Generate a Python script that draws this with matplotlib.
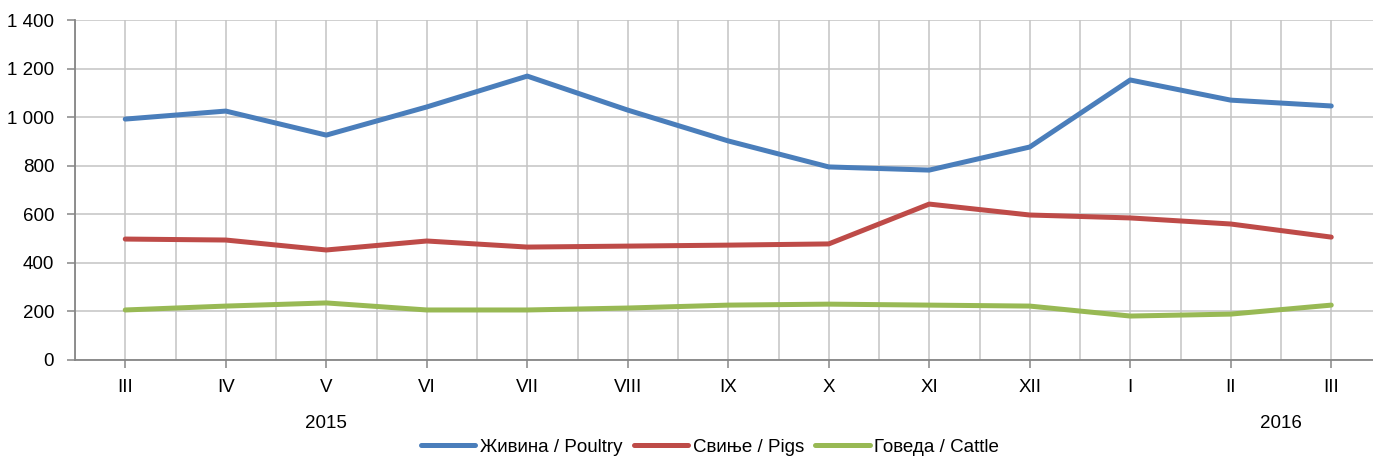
import matplotlib
matplotlib.use("Agg")
import matplotlib.pyplot as plt
from matplotlib.ticker import FixedLocator, FuncFormatter
import matplotlib.transforms as mtransforms

months = ["III", "IV", "V", "VI", "VII", "VIII", "IX", "X", "XI", "XII", "I", "II", "III"]
poultry = [992, 1025, 926, 1042, 1169, 1029, 902, 795, 782, 877, 1153, 1070, 1046]
pigs = [498, 494, 453, 490, 465, 469, 473, 478, 642, 597, 585, 560, 506]
cattle = [206, 222, 235, 206, 206, 214, 226, 230, 226, 222, 181, 189, 226]
years = [("2015", 2), ("2016", 11.5)]
series_names = ["Живина / Poultry", "Свиње / Pigs", "Говеда / Cattle"]
colors = ["#4A7EBB", "#BE4B48", "#98B954"]

plt.rcParams['font.family'] = ['Liberation Sans', 'DejaVu Sans']
FS = 13.5

fig = plt.figure(figsize=(13.73, 4.58), dpi=100)
ax = fig.add_axes([75/1373, 98/458, 1306.5/1373, 340/458])

x = list(range(len(months)))
for vals, name, c in zip([poultry, pigs, cattle], series_names, colors):
    ax.plot(x, vals, color=c, lw=3.6, label=name, solid_capstyle='round', solid_joinstyle='round')

ax.set_xlim(-0.5, len(months) - 0.5)
ax.set_ylim(0, 1400)
ax.set_yticks(range(0, 1401, 200))
ax.yaxis.set_major_formatter(FuncFormatter(lambda v, p: f"{int(v):,}".replace(",", " ")))
ax.set_xticks(x)
ax.set_xticklabels(months)
ax.xaxis.set_minor_locator(FixedLocator([i + 0.5 for i in range(-1, len(months))]))

ax.grid(True, which='major', axis='both', color='#C4C4C4', lw=1.1)
ax.grid(True, which='minor', axis='x', color='#C4C4C4', lw=1.1)
ax.set_axisbelow(True)

for s in ['top', 'right']:
    ax.spines[s].set_visible(False)
for s in ['left', 'bottom']:
    ax.spines[s].set_color('#868686')
    ax.spines[s].set_linewidth(1.3)

ax.tick_params(axis='y', which='major', length=6, width=1.1, color='#868686', labelsize=FS, pad=9)
ax.tick_params(axis='x', which='major', length=6, width=1.1, color='#868686', labelsize=FS, pad=8)
ax.tick_params(axis='x', which='minor', length=0)

trans = mtransforms.blended_transform_factory(ax.transData, fig.transFigure)
for label, pos in years:
    ax.text(pos, 1 - 423/458, label, transform=trans, ha='center', va='center', fontsize=FS)

fig.legend(loc='center', bbox_to_anchor=(710/1373, 1 - 447/458), ncol=3, frameon=False,
           fontsize=FS, handlelength=2.9, handletextpad=0.25, columnspacing=0.6, borderaxespad=0)

fig.savefig("out.png", dpi=100)
